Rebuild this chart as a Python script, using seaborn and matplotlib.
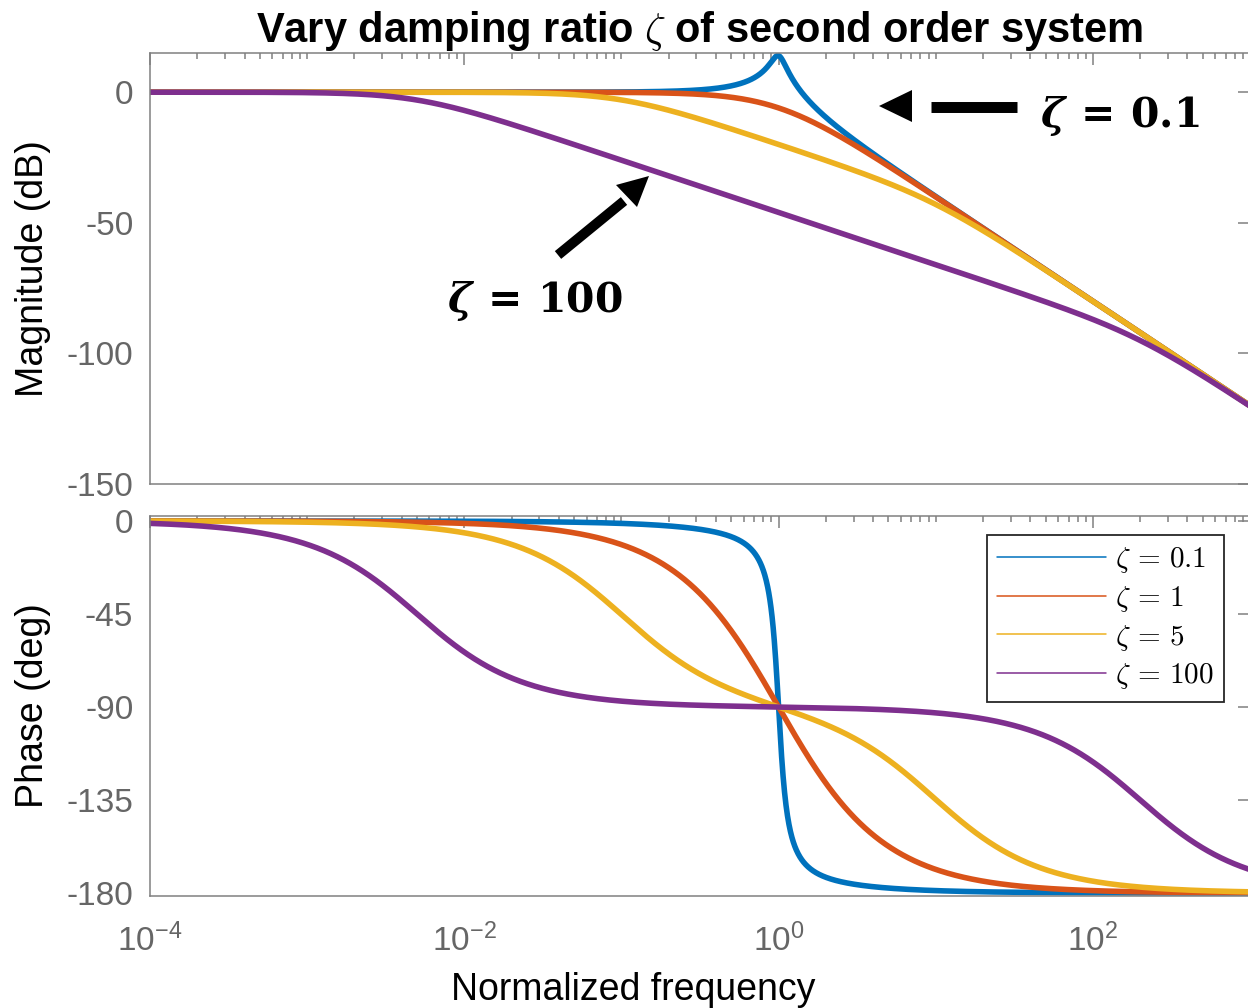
import numpy as np
import pandas as pd
import matplotlib
matplotlib.use("Agg")
import matplotlib.pyplot as plt
import seaborn as sns
from matplotlib.ticker import FixedLocator, FixedFormatter, LogLocator, NullFormatter
from matplotlib.patches import Polygon
from matplotlib.lines import Line2D
from matplotlib.font_manager import FontProperties

# Damping ratios of the second order system H(s) = 1 / (s^2 + 2*zeta*s + 1)
zetas = [0.1, 1, 5, 100]
zeta_labels = [r"$\zeta\,=\,0.1$", r"$\zeta\,=\,1$", r"$\zeta\,=\,5$", r"$\zeta\,=\,100$"]
line_colors = ["#0072BD", "#D95319", "#EDB120", "#7E2F8E"]

# Normalized frequency grid (rad/s over natural frequency)
freq = np.logspace(-4, 3, 3000)

mag_ticks = [0, -50, -100, -150]
mag_tick_labels = ["0", "-50", "-100", "-150"]
phase_ticks = [0, -45, -90, -135, -180]
phase_tick_labels = ["0", "-45", "-90", "-135", "-180"]
freq_ticks = [1e-4, 1e-2, 1e0, 1e2]
freq_tick_labels = [r"$\mathdefault{10^{-4}}$", r"$\mathdefault{10^{-2}}$",
                    r"$\mathdefault{10^{0}}$", r"$\mathdefault{10^{2}}$"]

# Frequency response of each system
frames = []
for z, lab in zip(zetas, zeta_labels):
    s = 1j * freq
    h = 1.0 / (s ** 2 + 2 * z * s + 1)
    frames.append(pd.DataFrame({
        "freq": freq,
        "label": lab,
        "mag": 20 * np.log10(np.abs(h)),
        "phase": np.angle(h, deg=True),
    }))
df = pd.concat(frames, ignore_index=True)

sns.set_style("white")
plt.rcParams["font.family"] = ["Liberation Sans", "DejaVu Sans"]
plt.rcParams["text.color"] = "black"
plt.rcParams["axes.labelcolor"] = "black"
plt.rcParams["mathtext.fontset"] = "cm"
plt.rcParams["mathtext.rm"] = "DejaVu Serif:bold"
plt.rcParams["mathtext.it"] = "DejaVu Serif:italic:bold"
plt.rcParams["mathtext.bf"] = "DejaVu Serif:bold"
plt.rcParams["axes.unicode_minus"] = False

W, H = 1248, 1008
fig = plt.figure(figsize=(W / 100, H / 100), dpi=100)
ax1 = fig.add_axes([150 / W, 1 - 484 / H, 1100 / W, 431 / H])
ax2 = fig.add_axes([150 / W, 1 - 896 / H, 1100 / W, 380 / H])

palette = dict(zip(zeta_labels, line_colors))
axis_gray = "#808080"
label_gray = "#666666"

for ax, col in [(ax1, "mag"), (ax2, "phase")]:
    ax.set_xscale("log")
    sns.lineplot(data=df, x="freq", y=col, hue="label", hue_order=zeta_labels,
                 palette=palette, estimator=None, sort=False, linewidth=4,
                 legend=False, ax=ax)
    ax.set_xlim(1e-4, 1e3)
    ax.xaxis.set_major_locator(FixedLocator(freq_ticks))
    ax.xaxis.set_minor_locator(LogLocator(base=10, subs=np.arange(1, 10), numticks=50))
    ax.xaxis.set_minor_formatter(NullFormatter())
    ax.tick_params(axis="both", which="both", direction="in", top=True, right=True,
                   color=axis_gray, labelcolor=label_gray, labelsize=24, width=1.1)
    ax.tick_params(axis="both", which="major", length=8.6)
    ax.tick_params(axis="both", which="minor", length=4.3)
    ax.tick_params(axis="y", pad=12)
    ax.tick_params(axis="x", pad=20)
    for sp in ax.spines.values():
        sp.set_color(axis_gray)
        sp.set_linewidth(1.1)
    ax.set_xlabel("")

ax1.set_ylim(-150, 15)
ax1.set_yticks(mag_ticks, mag_tick_labels)
ax1.tick_params(labelbottom=False)
ax1.set_ylabel("Magnitude (dB)", fontsize=27, labelpad=11)
ax1.set_title(r"Vary damping ratio $\zeta$ of second order system", fontsize=30,
              fontweight="bold", pad=4, math_fontfamily="cm", color="black")

ax2.set_ylim(-181.45, 2.42)
ax2.set_yticks(phase_ticks, phase_tick_labels)
ax2.xaxis.set_major_formatter(FixedFormatter(freq_tick_labels))
ax2.set_ylabel("Phase (deg)", fontsize=27, labelpad=11)
ax2.set_xlabel("Normalized frequency", fontsize=27)
ax2.xaxis.set_label_coords(0.439, -0.2)

handles = [Line2D([], [], color=c, linewidth=1.1) for c in line_colors]
leg = ax2.legend(handles, zeta_labels, loc="upper right", bbox_to_anchor=(0.9764, 0.95),
                 prop=FontProperties(size=21, math_fontfamily="cm"), frameon=True,
                 fancybox=False, framealpha=1, edgecolor="#262626", borderaxespad=0,
                 handlelength=3.75, handletextpad=0.3, labelspacing=0.3, borderpad=0.35)
leg.get_frame().set_linewidth(1.3)


def fpx(x, y):
    return (x / W, 1 - y / H)


def arrow(shaft, head, width):
    (x0, y0), (x1, y1) = shaft
    a, b = fpx(x0, y0), fpx(x1, y1)
    fig.add_artist(Line2D([a[0], b[0]], [a[1], b[1]], transform=fig.transFigure,
                          color="black", linewidth=width, solid_capstyle="butt"))
    fig.add_artist(Polygon([fpx(*p) for p in head], closed=True, transform=fig.transFigure,
                           facecolor="black", edgecolor="none"))


# Pointer to the lightly damped curve
arrow(((931, 106.5), (1017, 106.5)), [(879, 106), (912, 90), (912, 122)], 7.9)
fig.text(*fpx(1040, 127), r"$\zeta\,=\,0.1$", fontsize=29.5, math_fontfamily="custom",
         ha="left", va="baseline", color="black")

# Pointer to the heavily damped curve
arrow(((558, 255), (624, 201)), [(649, 176), (616, 185), (637, 207)], 7.2)
fig.text(*fpx(447, 312), r"$\zeta\,=\,100$", fontsize=29.5, math_fontfamily="custom",
         ha="left", va="baseline", color="black")

fig.savefig("out.png", dpi=100)
